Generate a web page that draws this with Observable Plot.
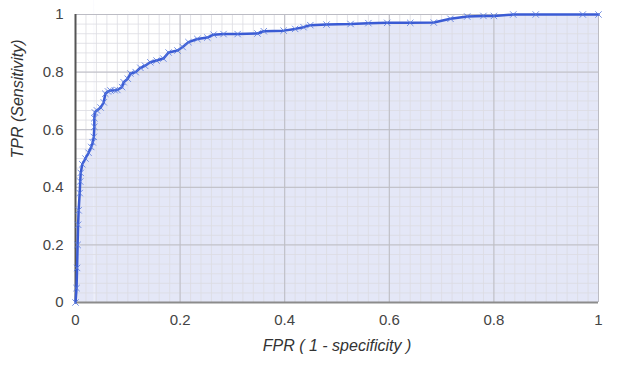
<!DOCTYPE html>
<html>
<head>
<meta charset="utf-8">
<script src="https://cdn.jsdelivr.net/npm/d3@7"></script>
<script src="https://cdn.jsdelivr.net/npm/@observablehq/plot@0.6"></script>
<style>
  html, body { margin: 0; padding: 0; background: #fff; }
  svg { display: block; }
</style>
</head>
<body>
<div id="chart"></div>
<script>
const fpr = [0, 0.002, 0.003, 0.004, 0.005, 0.006, 0.008, 0.009, 0.010, 0.013, 0.019, 0.025, 0.030, 0.033, 0.035, 0.036, 0.036, 0.037, 0.041, 0.048, 0.054, 0.057, 0.062, 0.067, 0.075, 0.080, 0.089, 0.092, 0.100, 0.105, 0.115, 0.124, 0.133, 0.143, 0.155, 0.168, 0.178, 0.195, 0.205, 0.216, 0.233, 0.252, 0.264, 0.283, 0.310, 0.348, 0.360, 0.398, 0.420, 0.436, 0.449, 0.480, 0.526, 0.560, 0.596, 0.640, 0.685, 0.717, 0.749, 0.780, 0.800, 0.837, 0.880, 0.970, 1.0];
const tpr = [0, 0.05, 0.12, 0.20, 0.27, 0.32, 0.38, 0.42, 0.45, 0.48, 0.50, 0.52, 0.54, 0.556, 0.575, 0.61, 0.64, 0.66, 0.667, 0.677, 0.695, 0.725, 0.733, 0.736, 0.737, 0.738, 0.748, 0.765, 0.777, 0.795, 0.80, 0.815, 0.822, 0.834, 0.840, 0.847, 0.868, 0.875, 0.887, 0.904, 0.915, 0.920, 0.930, 0.932, 0.932, 0.934, 0.942, 0.944, 0.950, 0.956, 0.963, 0.965, 0.967, 0.970, 0.971, 0.971, 0.972, 0.985, 0.993, 0.995, 0.995, 1.0, 1.0, 1.0, 1.0];
const xTicks = [0, 0.2, 0.4, 0.6, 0.8, 1];
const yTicks = [0, 0.2, 0.4, 0.6, 0.8, 1];
const xMinor = d3.range(0, 1.0001, 0.02);
const yMinor = d3.range(0, 31).map(i => i / 30);
const xTitle = "FPR ( 1 - specificity )";
const yTitle = "TPR (Sensitivity)";

const roc = fpr.map((x, i) => ({x, y: tpr[i]}));
const blue = "#3a5bd4";
const fmt = d => String(+d.toFixed(2));

const chart = Plot.plot({
  width: 620,
  height: 365,
  marginLeft: 75,
  marginRight: 22,
  marginTop: 14,
  marginBottom: 63,
  style: {fontFamily: "Liberation Sans, Arial, sans-serif", fontSize: "15px", color: "#444", background: "#fff"},
  x: {domain: [0, 1]},
  y: {domain: [0, 1]},
  marks: [
    Plot.areaY(roc, {x: "x", y: "y", fill: "#dfe3f6", fillOpacity: 0.85}),
    Plot.ruleX(xMinor, {stroke: "#dcdce2", strokeOpacity: 0.8, strokeWidth: 1}),
    Plot.ruleY(yMinor, {stroke: "#dcdce2", strokeOpacity: 0.8, strokeWidth: 1}),
    Plot.ruleX(xTicks, {stroke: "#bcbcc4", strokeWidth: 1}),
    Plot.ruleY(yTicks.filter(d => d > 0), {stroke: "#bcbcc4", strokeWidth: 1}),
    Plot.ruleY([0], {stroke: "#8c8c8c", strokeWidth: 2}),
    Plot.ruleX([0], {stroke: "#555", strokeWidth: 2}),
    Plot.line(roc, {x: "x", y: "y", stroke: blue, strokeWidth: 2.5}),
    Plot.dot(roc, {x: "x", y: "y", symbol: "times", r: 3, stroke: "#5577dd", strokeWidth: 1, strokeOpacity: 0.8}),
    Plot.axisX(xTicks, {tickSize: 0, tickPadding: 12, label: null, tickFormat: fmt, fill: "#444", fontSize: 15}),
    Plot.axisY(yTicks, {tickSize: 0, tickPadding: 12, label: null, tickFormat: fmt, fill: "#444", fontSize: 15}),
    Plot.text([xTitle], {frameAnchor: "bottom", dy: 48, fontStyle: "italic", fontSize: 16, fill: "#333"}),
    Plot.text([yTitle], {frameAnchor: "left", dx: -58, rotate: -90, fontStyle: "italic", fontSize: 16, fill: "#333"})
  ]
});
document.getElementById("chart").append(chart);
</script>
</body>
</html>
